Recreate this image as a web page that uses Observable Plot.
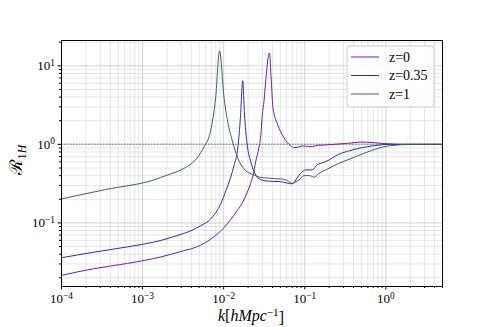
<!DOCTYPE html>
<html><head><meta charset="utf-8">
<script src="https://cdn.jsdelivr.net/npm/d3@7"></script>
<script src="https://cdn.jsdelivr.net/npm/@observablehq/plot@0.6"></script>
<style>body{margin:0;background:#fff} #chart{width:491px;height:327px}</style>
</head><body><div id="chart"></div>
<script>
const series = ["z=0", "z=0.35", "z=1"];
const colors = ["#6a1fb0", "#2b2bb2", "#3f5f5b"];

const kZ0 = [1e-4, 2.5e-4, 6.5e-4, 1.7e-3, 2.9e-3, 5.2e-3, 6.9e-3, 1.0e-2, 1.22e-2, 1.48e-2, 1.7e-2, 1.87e-2, 2.0e-2, 2.16e-2, 2.3e-2, 2.48e-2, 2.73e-2, 2.87e-2, 3.0e-2, 3.15e-2, 3.3e-2, 3.67e-2, 3.87e-2, 4.05e-2, 4.6e-2, 5.5e-2, 6.7e-2, 7.5e-2, 8.1e-2, 9.4e-2, 0.108, 0.124, 0.143, 0.173, 0.23, 0.34, 0.49, 0.72, 1.0, 1.5, 2.0, 5.0];
const rZ0 = [0.0215, 0.0261, 0.0305, 0.037, 0.043, 0.052, 0.062, 0.086, 0.11, 0.145, 0.18, 0.22, 0.26, 0.32, 0.4, 0.6, 0.92, 1.3, 2.4, 3.6, 6.4, 14.6, 6.4, 2.95, 1.82, 1.23, 0.96, 0.91, 0.916, 0.954, 0.943, 0.935, 0.971, 0.98, 1.0, 1.03, 1.07, 1.05, 1.02, 1.0, 1.0, 1.0];

const kZ035 = [1e-4, 2.5e-4, 6.5e-4, 1.7e-3, 2.9e-3, 3.9e-3, 5.2e-3, 6.9e-3, 9.2e-3, 1.07e-2, 1.22e-2, 1.35e-2, 1.48e-2, 1.6e-2, 1.72e-2, 1.8e-2, 1.87e-2, 1.96e-2, 2.16e-2, 2.37e-2, 2.6e-2, 3.15e-2, 4.0e-2, 5.0e-2, 6.0e-2, 7.0e-2, 8.0e-2, 8.9e-2, 0.103, 0.124, 0.143, 0.173, 0.2, 0.242, 0.337, 0.49, 0.72, 1.15, 2.0, 5.0];
const rZ035 = [0.036, 0.0424, 0.0495, 0.06, 0.071, 0.079, 0.092, 0.112, 0.175, 0.26, 0.38, 0.55, 0.83, 2.0, 6.45, 2.6, 1.5, 0.95, 0.6, 0.45, 0.38, 0.345, 0.338, 0.335, 0.322, 0.315, 0.37, 0.428, 0.473, 0.473, 0.552, 0.59, 0.634, 0.718, 0.815, 0.90, 0.963, 1.0, 1.0, 1.0];

const kZ1 = [1e-4, 3.5e-4, 1.38e-3, 2.0e-3, 2.94e-3, 3.92e-3, 4.6e-3, 5.2e-3, 5.7e-3, 6.9e-3, 7.97e-3, 8.9e-3, 1.01e-2, 1.16e-2, 1.28e-2, 1.48e-2, 1.78e-2, 2.0e-2, 2.37e-2, 2.8e-2, 3.15e-2, 3.6e-2, 4.2e-2, 5.06e-2, 6.0e-2, 6.7e-2, 7.05e-2, 7.8e-2, 8.5e-2, 9.8e-2, 0.113, 0.124, 0.13, 0.15, 0.182, 0.21, 0.254, 0.337, 0.49, 0.72, 1.15, 2.04, 5.0];
const rZ1 = [0.202, 0.266, 0.353, 0.405, 0.47, 0.56, 0.65, 0.78, 0.92, 1.49, 3.96, 15.5, 3.96, 1.64, 1.11, 0.684, 0.487, 0.44, 0.408, 0.38, 0.374, 0.372, 0.366, 0.363, 0.35, 0.323, 0.319, 0.335, 0.353, 0.40, 0.40, 0.39, 0.381, 0.428, 0.473, 0.51, 0.564, 0.634, 0.74, 0.86, 0.963, 1.0, 1.0];

const xMajor = [1e-4, 1e-3, 1e-2, 1e-1, 1];
const yMajor = [0.1, 1, 10];
const xDomain = [1e-4, 5];
const yDomain = [0.0155, 21];

const xMinor = [];
for (let e = -4; e <= 0; e++) for (let m = 2; m <= 9; m++) { const v = m * Math.pow(10, e); if (v <= xDomain[1]) xMinor.push(v); }
const yMinor = [];
for (let e = -2; e <= 1; e++) for (let m = 2; m <= 9; m++) { const v = m * Math.pow(10, e); if (v >= yDomain[0] && v <= yDomain[1]) yMinor.push(v); }

const data = [
  ...kZ0.map((k, i) => ({k, R: rZ0[i], z: series[0]})),
  ...kZ035.map((k, i) => ({k, R: rZ035[i], z: series[1]})),
  ...kZ1.map((k, i) => ({k, R: rZ1[i], z: series[2]}))
];

const fmt = d => "10^" + Math.round(Math.log10(d));

const svg = Plot.plot({
  width: 491, height: 327,
  marginLeft: 61, marginRight: 49, marginTop: 40, marginBottom: 41,
  style: {fontFamily: "'Liberation Serif', 'DejaVu Serif', serif", fontSize: "13px", background: "white", color: "black"},
  x: {type: "log", domain: xDomain, label: null},
  y: {type: "log", domain: yDomain, label: null},
  color: {domain: series, range: colors},
  marks: [
    Plot.gridX(xMinor, {stroke: "#b0b0b0", strokeOpacity: 0.4, strokeWidth: 0.8}),
    Plot.gridX(xMajor, {stroke: "#b0b0b0", strokeOpacity: 0.7, strokeWidth: 0.8}),
    Plot.gridY(yMinor, {stroke: "#b0b0b0", strokeOpacity: 0.4, strokeWidth: 0.8}),
    Plot.gridY(yMajor, {stroke: "#b0b0b0", strokeOpacity: 0.7, strokeWidth: 0.8}),
    Plot.ruleY([1], {stroke: "#808080", strokeWidth: 1.5, strokeDasharray: "1.5,1.5", strokeOpacity: 0.8}),
    Plot.line(data, {x: "k", y: "R", z: "z", stroke: "z", strokeWidth: 1, curve: "monotone-x"}),
    Plot.frame({stroke: "black", strokeWidth: 1}),
    Plot.axisX(xMajor, {tickSize: 3.5, tickPadding: 4, tickFormat: fmt, label: null, fontSize: 13}),
    Plot.axisX(xMinor, {tickSize: 2, tickFormat: () => "", label: null}),
    Plot.axisY(yMajor, {tickSize: 3.5, tickPadding: 3, tickFormat: fmt, label: null, fontSize: 13}),
    Plot.axisY(yMinor, {tickSize: 2, tickFormat: () => "", label: null})
  ]
});

const s = d3.select(svg);
s.selectAll("text").each(function() {
  const m = /^10\^(-?\d+)$/.exec(this.textContent);
  if (m) {
    this.textContent = "";
    const t = d3.select(this);
    t.append("tspan").text("10");
    t.append("tspan").attr("dy", "-0.45em").attr("font-size", "0.72em").text(m[1].replace("-", "\u2212"));
  }
});

// x label
const xl = s.append("text").attr("x", 251).attr("y", 321).attr("text-anchor", "middle")
  .attr("font-size", 16).attr("font-family", "'Liberation Serif', serif").attr("fill", "black");
xl.append("tspan").attr("font-style", "italic").text("k");
xl.append("tspan").text("[");
xl.append("tspan").attr("font-style", "italic").text("hMpc");
xl.append("tspan").attr("dy", "-0.45em").attr("font-size", "0.7em").text("\u22121");
xl.append("tspan").attr("dy", "0.45em").text("]");

// y label
const yl = s.append("text").attr("transform", "translate(22,160) rotate(-90)").attr("text-anchor", "middle")
  .attr("font-size", 18).attr("font-family", "'Liberation Serif', 'DejaVu Serif', serif").attr("fill", "black");
yl.append("tspan").text("\u211B");
yl.append("tspan").attr("dy", "0.3em").attr("font-size", "0.65em").text("1");
yl.append("tspan").attr("font-size", "0.65em").attr("font-style", "italic").text("H");

// legend
const lg = s.append("g").attr("text-anchor", "start");
lg.append("rect").attr("x", 347).attr("y", 46).attr("width", 87).attr("height", 61).attr("rx", 3)
  .attr("fill", "white").attr("fill-opacity", 0.85).attr("stroke", "#cccccc");
series.forEach((name, i) => {
  const cy = 57 + i * 18.5;
  lg.append("line").attr("x1", 351).attr("x2", 379).attr("y1", cy).attr("y2", cy)
    .attr("stroke", colors[i]).attr("stroke-width", 1);
  lg.append("text").attr("x", 389).attr("y", cy + 4.5).attr("font-size", 14).attr("text-anchor", "start")
    .attr("font-family", "'Liberation Serif', serif").attr("fill", "black").text(name);
});

document.getElementById("chart").appendChild(svg);
</script>
</body></html>
